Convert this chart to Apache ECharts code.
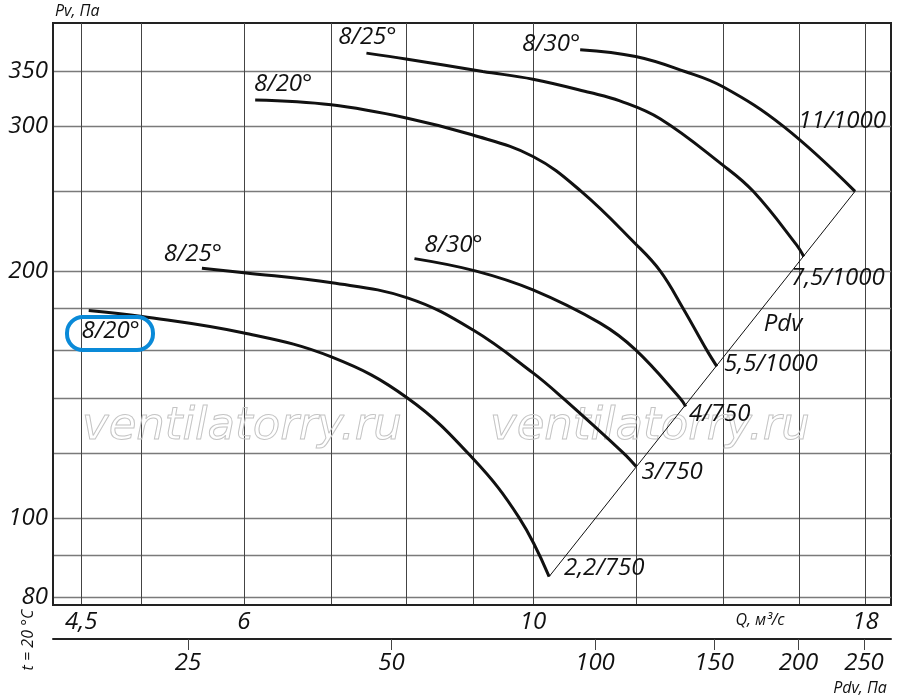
<!DOCTYPE html>
<html><head><meta charset="utf-8">
<script src="https://cdn.jsdelivr.net/npm/echarts@6/dist/echarts.min.js"></script>
<style>html,body{margin:0;padding:0;background:#fff}#c{width:900px;height:698px}</style>
</head><body><div id="c"></div>
<script>
// ---- data ----
const qTicks = [4.5, 5, 6, 7, 8, 9, 10, 12, 14, 16, 18];
const qLabels = [4.5, 6, 10, 18];
const pTicks = [80, 90, 100, 120, 140, 160, 180, 200, 250, 300, 350];
const pLabels = [80, 100, 200, 300, 350];
const pdvTicks = [25, 50, 100, 150, 200, 250];
const motorNames = ['2,2/750', '3/750', '4/750', '5,5/1000', '7,5/1000', '11/1000'];
const bladeAngles = ['8/20°', '8/25°', '8/30°', '8/20°', '8/25°', '8/30°'];

const curve22_750 = [[4.56,179],[5.01,176],[6.0,168],[7.01,157],[8.01,140],[8.99,118.2],[9.76,100],[10.29,84.8]];
const curve3_750 = [[5.57,201.5],[6.0,199],[7.01,193.4],[8.01,185.4],[8.99,169.5],[10.0,150.2],[10.54,140],[11.73,120],[12.0,115.5]];
const curve4_750 = [[8.11,207],[9.03,200],[10.0,189.6],[11.26,172.7],[11.99,160.2],[12.97,139.9],[13.1,136.7]];
const curve55_1000 = [[6.12,323],[7.0,318.7],[8.01,307],[8.98,293],[10.0,275.7],[10.89,250],[11.99,215.7],[12.52,200],[13.04,180],[13.6,160],[13.84,153]];
const curve75_1000 = [[7.45,368.5],[8.01,362.3],[9.15,350],[10.0,342.5],[11.06,329.9],[11.66,322.3],[12.52,306.5],[13.98,269.3],[14.76,250],[15.94,215],[16.14,208.2]];
const curve11_1000 = [[10.87,372],[11.99,365],[13.08,350],[13.98,335.5],[15.57,300],[17.67,250]];

const curves = [curve22_750, curve3_750, curve4_750, curve55_1000, curve75_1000, curve11_1000];

// ---- layout (label placement, not data) ----
const startOffsets = [[22,21],[-9,-14],[39,-13],[28,-16],[1,-16],[-29,-6]];
const endOffsets = [[55,-8],[36,6],[34,8],[54,-2],[34,22],[-13,-70]];

const FONT = "'Open Sans', 'Noto Sans', 'Liberation Sans', sans-serif";
const INK = '#111';
const fmt = v => String(v).replace('.', ',');

const series = [];
curves.forEach((c, i) => {
  series.push({
    type: 'line', name: motorNames[i], data: c, smooth: 0.4, showSymbol: false, symbol: 'none',
    lineStyle: { color: INK, width: 3 }, xAxisIndex: 0, yAxisIndex: 0, z: 5, silent: true
  });
});
// Pdv line through the curve end points
series.push({
  type: 'line', name: 'Pdv', data: [curves[0][curves[0].length-1], curves[5][curves[5].length-1]],
  showSymbol: false, symbol: 'none', lineStyle: { color: INK, width: 1 }, z: 4, silent: true
});

const staticGraphics = [
  { type: 'text', x: 82, y: 427, z: 1, silent: true, style: { text: 'ventilatorry.ru', font: "italic 45px 'DejaVu Sans'", fill: 'none', stroke: '#c4c4c4', lineWidth: 1, align: 'left', verticalAlign: 'middle' } },
  { type: 'text', x: 490, y: 427, z: 1, silent: true, style: { text: 'ventilatorry.ru', font: "italic 45px 'DejaVu Sans'", fill: 'none', stroke: '#c4c4c4', lineWidth: 1, align: 'left', verticalAlign: 'middle' } },
  { type: 'rect', z: 10, silent: true, shape: { x: 67, y: 317, width: 86, height: 33, r: 16 }, style: { fill: 'none', stroke: '#0a8ad8', lineWidth: 4 } },
  { type: 'text', x: 55, y: 11, z: 10, silent: true, style: { text: 'Pv, Па', font: "italic 16px " + FONT, fill: INK, align: 'left', verticalAlign: 'middle' } },
  { type: 'text', x: 783, y: 324, z: 10, silent: true, style: { text: 'Pdv', font: "italic 24px " + FONT, fill: INK, align: 'center', verticalAlign: 'middle' } },
  { type: 'text', x: 760, y: 620, z: 10, silent: true, style: { text: 'Q, м³/с', font: "italic 16px " + FONT, fill: INK, align: 'center', verticalAlign: 'middle' } },
  { type: 'text', x: 860, y: 688, z: 10, silent: true, style: { text: 'Pdv, Па', font: "italic 16px " + FONT, fill: INK, align: 'center', verticalAlign: 'middle' } },
  { type: 'text', x: 28, y: 640, rotation: Math.PI / 2, z: 10, silent: true, style: { text: 't = 20 °C', font: "italic 16px " + FONT, fill: INK, align: 'center', verticalAlign: 'middle' } }
];

const chart = echarts.init(document.getElementById('c'), null, { renderer: 'canvas' });
chart.setOption({
  animation: false,
  backgroundColor: '#fff',
  grid: { left: 53, right: 9, top: 23, bottom: 93, show: true, borderColor: '#222', borderWidth: 2, outerBoundsMode: 'none', containLabel: false },
  xAxis: [{
    type: 'log', min: 4.281, max: 18.83, position: 'bottom',
    axisLine: { show: true, lineStyle: { color: '#222', width: 2 } },
    axisTick: { show: false, customValues: qTicks },
    axisLabel: { customValues: qLabels, formatter: fmt, color: INK, fontFamily: FONT, fontStyle: 'italic', fontSize: 24, margin: 5 },
    splitLine: { show: true, lineStyle: { color: '#444', width: 1 } },
    minorTick: { show: false }, minorSplitLine: { show: false }
  }, {
    type: 'log', min: 15.78, max: 274.1, position: 'bottom', offset: 34,
    axisLine: { show: true, lineStyle: { color: '#222', width: 2 } },
    axisTick: { show: true, customValues: pdvTicks, length: 11, lineStyle: { color: '#444', width: 1 } },
    axisLabel: { customValues: pdvTicks, formatter: fmt, color: INK, fontFamily: FONT, fontStyle: 'italic', fontSize: 24, margin: 12 },
    splitLine: { show: false }
  }],
  yAxis: [{
    type: 'log', min: 78.3, max: 401,
    axisLine: { show: true, lineStyle: { color: '#222', width: 2 } },
    axisTick: { show: false, customValues: pTicks },
    axisLabel: { customValues: pLabels, formatter: fmt, color: INK, fontFamily: FONT, fontStyle: 'italic', fontSize: 24, margin: 5 },
    splitLine: { show: true, lineStyle: { color: '#7a7a7a', width: 1.3 } }
  }],
  graphic: staticGraphics,
  series: series
});

// curve labels anchored to the curves' first and last data points
const labelGraphics = [];
curves.forEach((c, i) => {
  const s = chart.convertToPixel({ gridIndex: 0 }, c[0]);
  const e = chart.convertToPixel({ gridIndex: 0 }, c[c.length - 1]);
  labelGraphics.push({ type: 'text', x: s[0] + startOffsets[i][0], y: s[1] + startOffsets[i][1], z: 10, silent: true,
    style: { text: bladeAngles[i], font: "italic 24px " + FONT, fill: INK, align: 'center', verticalAlign: 'middle' } });
  labelGraphics.push({ type: 'text', x: e[0] + endOffsets[i][0], y: e[1] + endOffsets[i][1], z: 10, silent: true,
    style: { text: motorNames[i], font: "italic 24px " + FONT, fill: INK, align: 'center', verticalAlign: 'middle' } });
});
chart.setOption({ graphic: staticGraphics.concat(labelGraphics) });
</script></body></html>
